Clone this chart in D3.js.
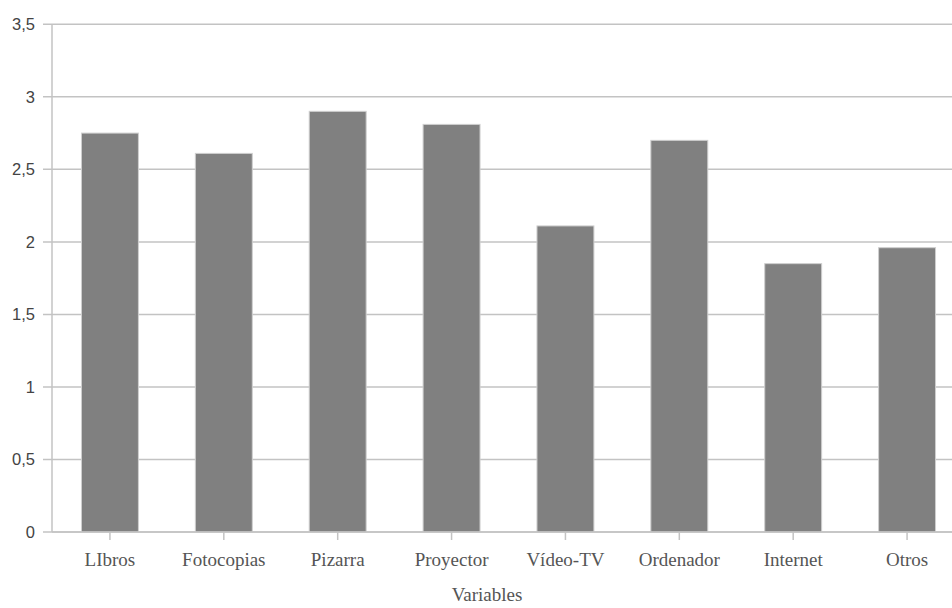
<!DOCTYPE html>
<html><head><meta charset="utf-8">
<script src="https://cdn.jsdelivr.net/npm/d3@7"></script>
<style>body{margin:0;background:#fff}svg{display:block}</style>
</head><body>
<svg id="c" width="952" height="608"></svg>
<script>
const categories = ["LIbros","Fotocopias","Pizarra","Proyector","Vídeo-TV","Ordenador","Internet","Otros"];
const values = [2.75, 2.61, 2.9, 2.81, 2.11, 2.7, 1.85, 1.96];
const yTicks = [0,0.5,1,1.5,2,2.5,3,3.5];
const yTickLabels = ["0","0,5","1","1,5","2","2,5","3","3,5"];
const xTitle = "Variables";

const svg = d3.select("#c");
const plotLeft = 52, plotTop = 24.3, plotBottom = 532;
const x = d3.scaleBand().domain(categories).range([53, 964]).paddingInner(0.5).paddingOuter(0.25);
const y = d3.scaleLinear().domain([0,3.5]).range([plotBottom, plotTop]);

// gridlines
svg.append("g").selectAll("line").data(yTicks).join("line")
  .attr("x1", 43).attr("x2", 952)
  .attr("y1", d=>y(d)).attr("y2", d=>y(d))
  .attr("stroke", "#c3c3c3").attr("stroke-width", 1.5);

// y axis line
svg.append("line").attr("x1", plotLeft).attr("x2", plotLeft).attr("y1", plotTop).attr("y2", plotBottom)
  .attr("stroke", "#c3c3c3").attr("stroke-width", 1.5);

// y labels
svg.append("g").selectAll("text").data(yTicks).join("text")
  .attr("x", 35).attr("y", d=>y(d)).attr("dy", "0.36em")
  .attr("text-anchor", "end")
  .attr("font-family", "Liberation Sans, Arial, sans-serif").attr("font-size", 16.5)
  .attr("fill", "#444")
  .text((d,i)=>yTickLabels[i]);

// bars
svg.append("g").selectAll("rect").data(values).join("rect")
  .attr("x", (d,i)=>x(categories[i]))
  .attr("width", x.bandwidth())
  .attr("y", d=>y(d))
  .attr("height", d=>plotBottom - y(d))
  .attr("fill", "#808080").attr("stroke", "#cfcfcf").attr("stroke-width", 1);

// x axis line over bars
svg.append("line").attr("x1", plotLeft).attr("x2", 952).attr("y1", plotBottom).attr("y2", plotBottom)
  .attr("stroke", "#c3c3c3").attr("stroke-width", 1.5);

// x ticks
svg.append("g").selectAll("line").data(categories).join("line")
  .attr("x1", d=>x(d)+x.bandwidth()/2).attr("x2", d=>x(d)+x.bandwidth()/2)
  .attr("y1", plotBottom).attr("y2", 540)
  .attr("stroke", "#c3c3c3").attr("stroke-width", 1.5);

// x labels
svg.append("g").selectAll("text").data(categories).join("text")
  .attr("x", d=>x(d)+x.bandwidth()/2).attr("y", 566)
  .attr("text-anchor", "middle")
  .attr("font-family", "Liberation Serif, Times New Roman, serif").attr("font-size", 19)
  .attr("fill", "#555")
  .text(d=>d);

svg.append("text").attr("x", 487).attr("y", 601).attr("text-anchor", "middle")
  .attr("font-family", "Liberation Serif, Times New Roman, serif").attr("font-size", 19)
  .attr("fill", "#555").text(xTitle);
</script>
</body></html>
